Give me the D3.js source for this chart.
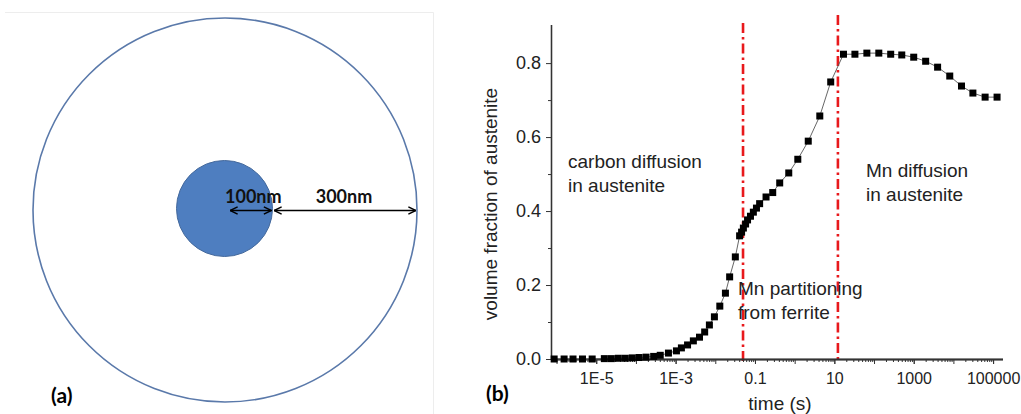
<!DOCTYPE html>
<html>
<head>
<meta charset="utf-8">
<script src="https://d3js.org/d3.v7.min.js"></script>
<style>
  html, body { margin: 0; padding: 0; background: #fff; }
  svg { display: block; }
</style>
</head>
<body>
<svg id="chart" width="1021" height="414"></svg>
<script>
// ---------- data (panel b) ----------
const timeSeconds = [
  8.7e-7, 1.55e-6, 2.6e-6, 4.5e-6, 7.9e-6,
  1.6e-5, 2.4e-5, 3.6e-5, 5.4e-5, 8.1e-5, 1.2e-4, 1.8e-4, 2.8e-4, 4.1e-4,
  6.6e-4, 1.05e-3, 1.4e-3, 2.0e-3, 2.8e-3, 4.0e-3, 5.4e-3, 7.1e-3, 9.5e-3,
  1.3e-2, 1.8e-2, 2.3e-2, 3.2e-2,
  4.1e-2, 4.6e-2, 5.1e-2, 5.8e-2, 6.5e-2, 7.7e-2, 9.1e-2, 0.109,
  0.131, 0.19, 0.28, 0.42, 0.71, 1.2, 2.2, 4.3, 8.1,
  17, 33, 66, 132, 263, 500, 1000, 2000, 4000, 8100, 16000, 31000, 63000, 126000
];
const austeniteFraction = [
  0, 0, 0, 0, 0,
  0.001, 0.001, 0.002, 0.002, 0.003, 0.004, 0.005, 0.007, 0.010,
  0.016, 0.022, 0.030, 0.038, 0.049, 0.059, 0.073, 0.092, 0.114,
  0.143, 0.178, 0.222, 0.276,
  0.333, 0.343, 0.354, 0.365, 0.376, 0.386, 0.397, 0.408,
  0.420, 0.438, 0.450, 0.476, 0.503, 0.540, 0.589, 0.657, 0.749,
  0.824, 0.824, 0.827, 0.827, 0.824, 0.822, 0.816, 0.805, 0.789, 0.765, 0.738, 0.719, 0.708, 0.708
];
const xTickValues = [1e-5, 1e-3, 0.1, 10, 1000, 100000];
const xTickLabels = ["1E-5", "1E-3", "0.1", "10", "1000", "100000"];
const yTickValues = [0, 0.2, 0.4, 0.6, 0.8];
const yTickLabels = ["0.0", "0.2", "0.4", "0.6", "0.8"];
const regimeBoundaries = [0.05, 12.3];
const regimeLabels = [
  ["carbon diffusion", "in austenite"],
  ["Mn partitioning", "from ferrite"],
  ["Mn diffusion", "in austenite"]
];

// ---------- data (panel a) ----------
const radiiNm = [100, 400];           // inner particle radius, outer cell radius
const distanceLabels = ["100nm", "300nm"];

const svg = d3.select("#chart");
const axisColor = "#333";
const textColor = "#222";
const sans = "'Liberation Sans', Arial, sans-serif";
const boldFont = "Lato, 'Open Sans', sans-serif";

// ======================= Panel (a) =======================
const pa = svg.append("g");
const cx = 225, cy = 210;
const rScale = d3.scaleLinear().domain([0, 400]).range([0, 192]);

// faint frame of the pasted image
pa.append("path").attr("d", "M5,12.5H433.5V414")
  .attr("fill", "none").attr("stroke", "#ededed").attr("stroke-width", 1);

pa.append("circle").attr("cx", cx).attr("cy", cy).attr("r", rScale(radiiNm[1]))
  .attr("fill", "none").attr("stroke", "#5a79aa").attr("stroke-width", 1.6);
pa.append("circle").attr("cx", cx - 0.5).attr("cy", cy - 1.5).attr("r", rScale(radiiNm[0]))
  .attr("fill", "#4e7ec0").attr("stroke", "#44699c").attr("stroke-width", 1);

const defs = svg.append("defs");
defs.append("marker").attr("id", "arrow").attr("viewBox", "0 0 10 10")
  .attr("refX", 9.5).attr("refY", 5).attr("markerWidth", 9).attr("markerHeight", 9)
  .attr("markerUnits", "userSpaceOnUse").attr("orient", "auto-start-reverse")
  .append("path").attr("d", "M1,1L9.5,5L1,9").attr("fill", "none")
  .attr("stroke", "#000").attr("stroke-width", 1.6);

const arrowY = 210.5;
const arrows = [[cx + 5, cx + rScale(radiiNm[0]) - 1.5], [cx + rScale(radiiNm[0]) + 1, cx + rScale(radiiNm[1]) - 1]];
arrows.forEach(a => {
  pa.append("line").attr("x1", a[0]).attr("x2", a[1]).attr("y1", arrowY).attr("y2", arrowY)
    .attr("stroke", "#000").attr("stroke-width", 1.6)
    .attr("marker-start", "url(#arrow)").attr("marker-end", "url(#arrow)");
});
pa.append("text").attr("x", 225).attr("y", 203).text(distanceLabels[0])
  .attr("font-family", boldFont).attr("font-weight", "bold")
  .attr("font-size", 18).attr("fill", "#111");
pa.append("text").attr("x", 344).attr("y", 203).attr("text-anchor", "middle").text(distanceLabels[1])
  .attr("font-family", boldFont).attr("font-weight", "bold")
  .attr("font-size", 18).attr("fill", "#111");
pa.append("text").attr("x", 51).attr("y", 403).text("(a)")
  .attr("font-family", boldFont).attr("font-weight", "bold")
  .attr("font-size", 21).attr("fill", "#000");

// ======================= Panel (b) =======================
const x0 = 551, x1 = 1003, yBottom = 359, yTop = 25;
const x = d3.scaleLog().domain([Math.pow(10, -6.14), Math.pow(10, 5.25)]).range([x0, x1]);
const y = d3.scaleLinear().domain([0, 0.903]).range([yBottom, yTop]);

const pb = svg.append("g");

// regime boundary lines
const redTops = [23, 15];
regimeBoundaries.forEach((t, i) => {
  pb.append("line").attr("x1", x(t)).attr("x2", x(t)).attr("y1", redTops[i]).attr("y2", yBottom + 3)
    .attr("stroke", "#e8191c").attr("stroke-width", 2.6)
    .attr("stroke-dasharray", "10,4,2.5,4");
});

// x axis with log minor ticks
const majorX = d3.range(-6, 6).map(e => Math.pow(10, e)).filter(v => x(v) >= x0 && x(v) <= x1);
const minorX = [];
d3.range(-7, 6).forEach(e => { for (let k = 2; k <= 9; k++) { const v = k * Math.pow(10, e); if (x(v) >= x0 && x(v) <= x1) minorX.push(v); } });

const xAxisMinor = d3.axisBottom(x).tickValues(minorX).tickSize(3).tickFormat("");
const xAxisMajor = d3.axisBottom(x).tickValues(majorX).tickSize(5).tickFormat("");
const xAxisLabels = d3.axisBottom(x).tickValues(xTickValues).tickSize(5)
  .tickFormat((d, i) => xTickLabels[i]).tickPadding(9);

[xAxisMinor, xAxisMajor, xAxisLabels].forEach(ax => {
  const g = pb.append("g").attr("transform", `translate(0,${yBottom})`).call(ax);
  g.select(".domain").attr("stroke", axisColor).attr("stroke-width", 1.3).attr("d", `M${x0},0.5H${x1}`);
  g.selectAll(".tick line").attr("stroke", axisColor).attr("stroke-width", 1);
  g.selectAll("text").attr("font-family", sans)
    .attr("font-size", 16).attr("fill", textColor);
});

// y axis
const yAxisMinor = d3.axisLeft(y).tickValues([0.1, 0.3, 0.5, 0.7]).tickSize(3).tickFormat("");
const yAxisMajor = d3.axisLeft(y).tickValues(yTickValues).tickSize(5)
  .tickFormat((d, i) => yTickLabels[i]).tickPadding(5);
[yAxisMinor, yAxisMajor].forEach(ax => {
  const g = pb.append("g").attr("transform", `translate(${x0},0)`).call(ax);
  g.select(".domain").attr("stroke", axisColor).attr("stroke-width", 1.3).attr("d", `M0.5,${yTop}V${yBottom}`);
  g.selectAll(".tick line").attr("stroke", axisColor).attr("stroke-width", 1);
  g.selectAll("text").attr("font-family", sans)
    .attr("font-size", 18).attr("fill", textColor);
});

// data line and markers
const pts = timeSeconds.map((t, i) => ({ t, v: austeniteFraction[i] }));
pb.append("path").datum(pts)
  .attr("d", d3.line().x(d => x(d.t)).y(d => y(d.v)))
  .attr("fill", "none").attr("stroke", "#555").attr("stroke-width", 0.9);
const sz = 7;
pb.selectAll("rect.pt").data(pts).join("rect").attr("class", "pt")
  .attr("x", d => x(d.t) - sz / 2).attr("y", d => y(d.v) - sz / 2)
  .attr("width", sz).attr("height", sz).attr("fill", "#000");

// annotations
const annot = [
  { lines: regimeLabels[0], x: 568, y: 168 },
  { lines: regimeLabels[1], x: 738, y: 295 },
  { lines: regimeLabels[2], x: 866, y: 177 }
];
annot.forEach(a => {
  const t = pb.append("text").attr("font-family", sans)
    .attr("font-size", 19).attr("fill", textColor);
  a.lines.forEach((l, i) => t.append("tspan").attr("x", a.x).attr("y", a.y + i * 23.5).text(l));
});

// axis titles
pb.append("text").attr("transform", "translate(497,204) rotate(-90)").attr("text-anchor", "middle")
  .attr("font-family", sans).attr("font-size", 19).attr("fill", textColor)
  .text("volume fraction of austenite");
pb.append("text").attr("x", 780).attr("y", 410).attr("text-anchor", "middle")
  .attr("font-family", sans).attr("font-size", 19).attr("fill", textColor)
  .text("time (s)");
pb.append("text").attr("x", 486).attr("y", 401).text("(b)")
  .attr("font-family", boldFont).attr("font-weight", "bold")
  .attr("font-size", 21).attr("fill", "#000");
</script>
</body>
</html>
